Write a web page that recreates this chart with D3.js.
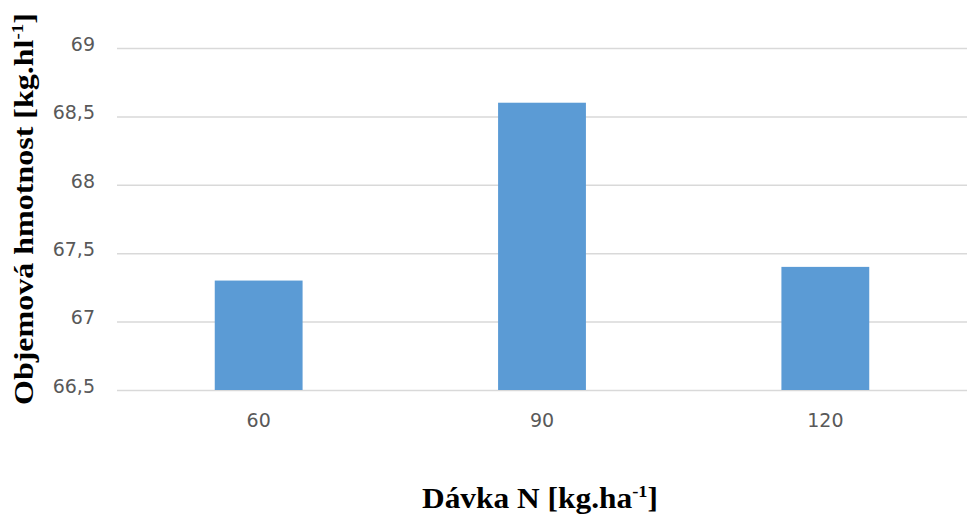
<!DOCTYPE html>
<html>
<head>
<meta charset="utf-8">
<script src="https://cdn.jsdelivr.net/npm/d3@7"></script>
<style>
  html, body { margin: 0; padding: 0; background: #fff; }
  svg { display: block; }
</style>
</head>
<body>
<svg id="chart" width="971" height="516"></svg>
<script>
// Nitrogen dose (kg/ha) and resulting test weight (kg/hl)
const doses = ["60", "90", "120"];
const testWeight = [67.3, 68.6, 67.4];
const yTicks = [66.5, 67, 67.5, 68, 68.5, 69];

const width = 971, height = 516;
const margin = { top: 48, right: 4, bottom: 126, left: 117 };
const plotW = width - margin.left - margin.right;
const plotH = height - margin.top - margin.bottom;

const svg = d3.select("#chart");
const g = svg.append("g").attr("transform", `translate(${margin.left},${margin.top})`);

const x = d3.scaleBand()
  .domain(doses)
  .range([0, plotW])
  .paddingInner(0.69)
  .paddingOuter(0.345);

const y = d3.scaleLinear()
  .domain([66.5, 69])
  .range([plotH, 0]);

const csFormat = d3.formatLocale({ decimal: ",", thousands: " ", grouping: [3], currency: ["", " Kč"] }).format("~g");

// horizontal gridlines with tick labels
const yAxis = d3.axisLeft(y)
  .tickValues(yTicks)
  .tickSize(-plotW)
  .tickPadding(22)
  .tickFormat(csFormat);

const yg = g.append("g").call(yAxis);
yg.select(".domain").remove();
yg.selectAll(".tick line").attr("stroke", "#d9d9d9").attr("stroke-width", 1.5);
yg.selectAll(".tick text")
  .attr("fill", "#595959")
  .attr("font-family", "DejaVu Sans, sans-serif")
  .attr("font-size", 19)
  .attr("dy", "0.12em");

// bars
g.selectAll("rect.bar")
  .data(doses.map((d, i) => ({ dose: d, value: testWeight[i] })))
  .join("rect")
  .attr("class", "bar")
  .attr("x", d => x(d.dose))
  .attr("width", x.bandwidth())
  .attr("y", d => y(d.value))
  .attr("height", d => y(66.5) - y(d.value))
  .attr("fill", "#5b9bd5");

// category labels
const xAxis = d3.axisBottom(x).tickSize(0).tickPadding(24);
const xg = g.append("g").attr("transform", `translate(0,${plotH})`).call(xAxis);
xg.select(".domain").remove();
xg.selectAll(".tick text")
  .attr("fill", "#595959")
  .attr("font-family", "DejaVu Sans, sans-serif")
  .attr("font-size", 19);

// axis titles
const xTitle = svg.append("text")
  .attr("x", 540)
  .attr("y", 508)
  .attr("text-anchor", "middle")
  .attr("font-family", "Liberation Serif, Times New Roman, serif")
  .attr("font-weight", "bold")
  .attr("font-size", 29)
  .attr("fill", "#000")
  .attr("textLength", 236)
  .attr("lengthAdjust", "spacingAndGlyphs");
xTitle.append("tspan").text("Dávka N [kg.ha");
xTitle.append("tspan").attr("font-size", 17).attr("dy", -11).text("-1");
xTitle.append("tspan").attr("dy", 11).text("]");

const yTitle = svg.append("text")
  .attr("transform", "translate(33,209) rotate(-90)")
  .attr("text-anchor", "middle")
  .attr("font-family", "Liberation Serif, Times New Roman, serif")
  .attr("font-weight", "bold")
  .attr("font-size", 27)
  .attr("fill", "#000")
  .attr("textLength", 392)
  .attr("lengthAdjust", "spacingAndGlyphs");
yTitle.append("tspan").text("Objemová hmotnost [kg.hl");
yTitle.append("tspan").attr("font-size", 16).attr("dy", -10).text("-1");
yTitle.append("tspan").attr("dy", 10).text("]");
</script>
</body>
</html>
